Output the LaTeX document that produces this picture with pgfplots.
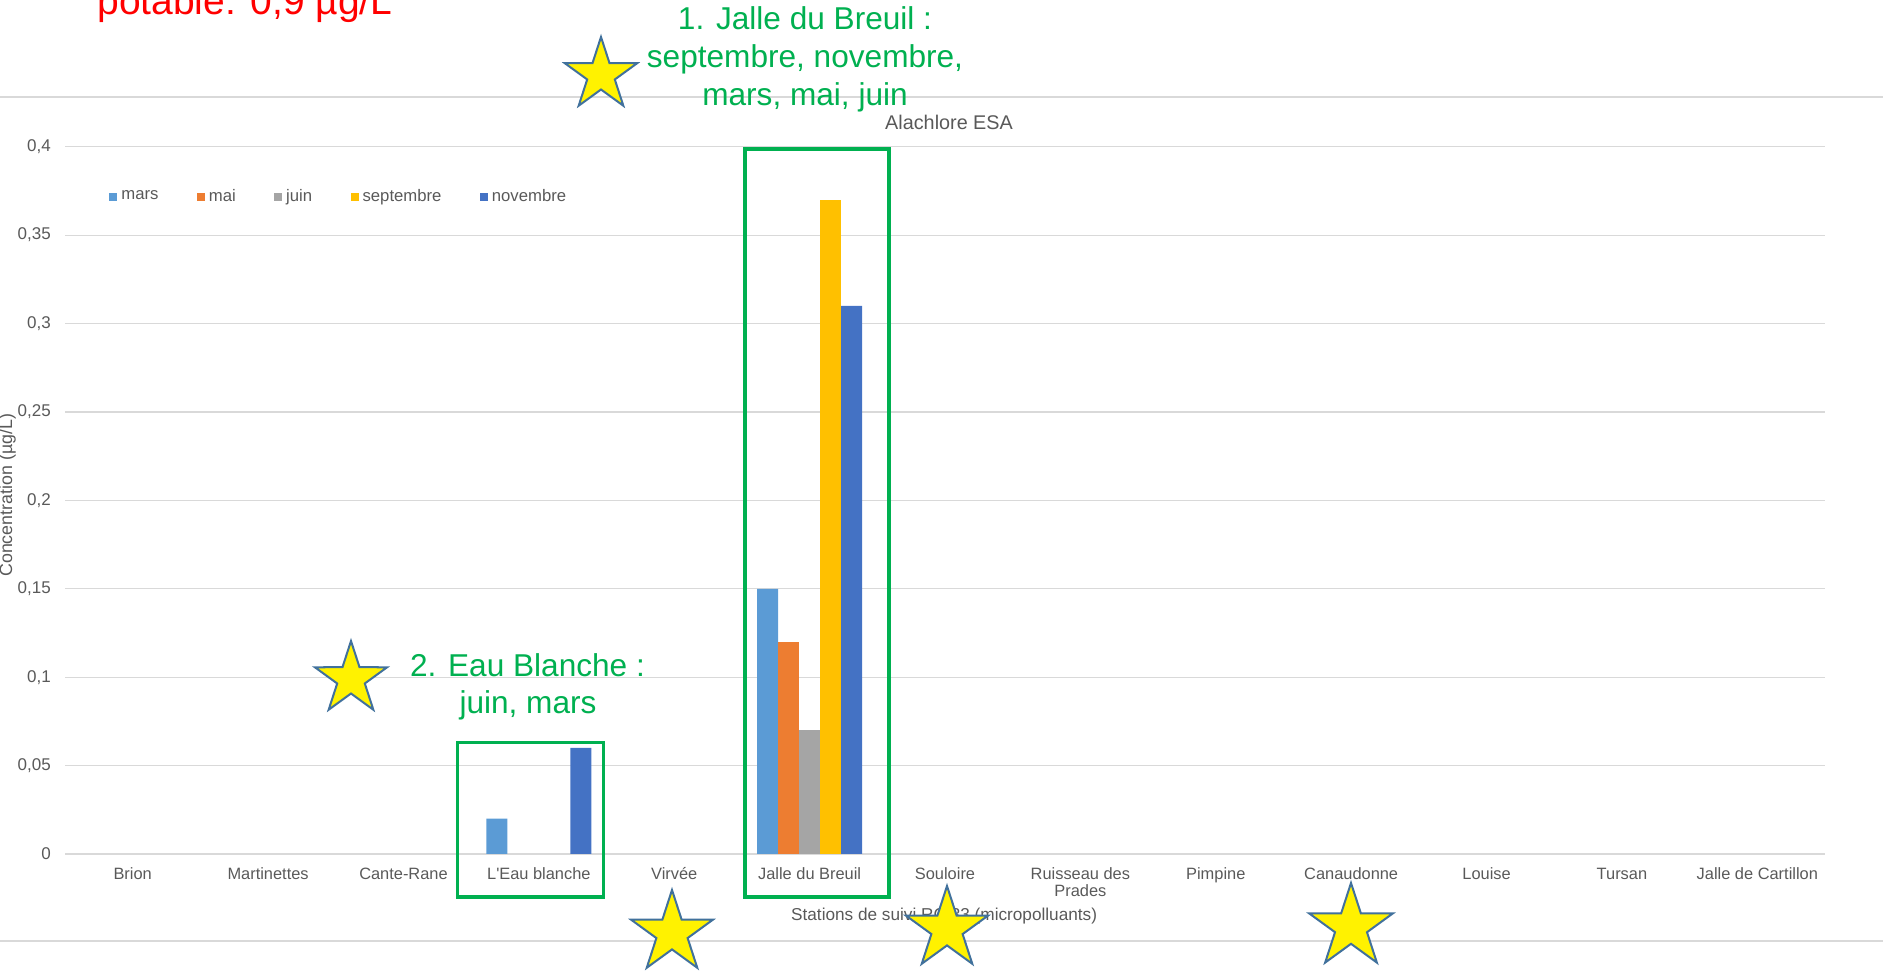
\documentclass[border=0pt]{standalone}
\usepackage{pgfplots}
\pgfplotsset{compat=1.18}
\usepackage{fontspec}
\setmainfont{Liberation Sans}
\usetikzlibrary{shapes.geometric}
\definecolor{cmars}{HTML}{5B9BD5}
\definecolor{cmai}{HTML}{ED7D31}
\definecolor{cjuin}{HTML}{A5A5A5}
\definecolor{csep}{HTML}{FFC000}
\definecolor{cnov}{HTML}{4472C4}
\definecolor{txtgrey}{HTML}{595959}
\definecolor{gridgrey}{HTML}{D9D9D9}
\definecolor{okgreen}{HTML}{00B050}
\definecolor{starline}{HTML}{41719C}
\begin{document}
\begin{tikzpicture}
\useasboundingbox (0,0) rectangle (941.5pt,486.5pt);
\clip (0,0) rectangle (941.5pt,486.5pt);
\begin{scope}[x=0.5pt,y=-0.5pt,yshift=486.5pt]
  \draw[gridgrey, line width=0.75pt] (0,97) -- (1883,97);
  \draw[gridgrey, line width=0.75pt] (0,941) -- (1883,941);
\end{scope}
\begin{axis}[
  at={(32.5pt,59.5pt)}, anchor=south west,
  scale only axis, width=880pt, height=353.65pt,
  xmin=-0.5, xmax=12.5, ymin=0, ymax=0.4,
  clip=false,
  ybar=0pt, bar width=10.5pt,
  axis line style={draw=none}, major tick length=0pt,
  xtick={0,...,12},
  xticklabels={\strut Brion, \strut Martinettes, \strut Cante-Rane, \strut L\textquotesingle Eau blanche, \strut Virvée, \strut Jalle du Breuil, \strut Souloire, {\strut Ruisseau des\\Prades}, \strut Pimpine, \strut Canaudonne, \strut Louise, \strut Tursan, \strut Jalle de Cartillon},
  x tick label style={align=center, font=\fontsize{8.2}{8.85}\selectfont, text=txtgrey, yshift=-2.8pt},
  ytick={0,0.05,0.1,0.15,0.2,0.25,0.3,0.35,0.4},
  yticklabel style={/pgf/number format/.cd, use comma, fixed, precision=2, assume math mode=true, /tikz/.cd, font=\fontsize{8.5}{10}\selectfont, text=txtgrey, xshift=-3.6pt},
  ymajorgrids, grid style={gridgrey, line width=0.6pt},
  xlabel={Stations de suivi RC 33 (micropolluants)},
  ylabel={Concentration (µg/L)},
  every axis x label/.style={at={(rel axis cs:0.4995,0)}, yshift=-31pt, anchor=center, font=\fontsize{8.6}{10}\selectfont, text=txtgrey},
  every axis y label/.style={at={(rel axis cs:0,0.5)}, xshift=-28.75pt, yshift=2.5pt, rotate=90, anchor=center, font=\fontsize{8.9}{10}\selectfont, text=txtgrey},
  legend columns=5,
  legend style={at={(rel axis cs:0.025,0.929)}, anchor=west, draw=none, fill=none, inner sep=0pt, font=\fontsize{8.35}{10}\selectfont, text=txtgrey, /tikz/every even column/.append style={column sep=17.2pt}},
  legend image code/.code={\fill[#1] (0pt,-2pt) rectangle (4pt,2pt);},
]
\addplot[fill=cmars, draw=none] coordinates {(3,0.02) (5,0.15)};
\addlegendentry{mars}
\addplot[fill=cmai, draw=none] coordinates {(5,0.12)};
\addlegendentry{mai}
\addplot[fill=cjuin, draw=none] coordinates {(5,0.07)};
\addlegendentry{juin}
\addplot[fill=csep, draw=none] coordinates {(5,0.37)};
\addlegendentry{septembre}
\addplot[fill=cnov, draw=none] coordinates {(3,0.06) (5,0.31)};
\addlegendentry{novembre}
\node[anchor=base, inner sep=0pt, font=\fontsize{9.9}{11}\selectfont, text=txtgrey] at (rel axis cs:0.5023,1.0236) {Alachlore ESA};
\end{axis}
\begin{scope}[x=0.5pt,y=-0.5pt,yshift=486.5pt]
  \draw[okgreen, line width=1.75pt] (745,149) rectangle (889,897);
  \draw[okgreen, line width=1.75pt] (457.7,742.7) rectangle (603.3,897);
  \node[anchor=base west, inner sep=0pt, text=red, font=\fontsize{19.5}{23}\selectfont] at (97,15) {potable: 0,9 µg/L};
  \begin{scope}[every node/.style={anchor=base, inner sep=0pt, text=okgreen, font=\fontsize{15.8}{19}\selectfont}]
    \node at (805,30) {1. Jalle du Breuil :};
    \node at (805,68) {septembre, novembre,};
    \node at (805,106) {mars, mai, juin};
    \node at (527.5,677) {2. Eau Blanche :};
    \node at (528,714) {juin, mars};
  \end{scope}
  \begin{scope}[every node/.style={star, star points=5, star point ratio=2.618, inner sep=0pt, fill=yellow, draw=starline, line width=1pt}]
    \node[minimum size=38pt] at (601,75) {};
    \node[minimum size=38pt] at (351,679) {};
    \node[minimum size=43pt] at (672,933) {};
    \node[minimum size=43pt] at (947,929) {};
    \node[minimum size=44pt] at (1351,927) {};
  \end{scope}
\end{scope}
\end{tikzpicture}
\end{document}
